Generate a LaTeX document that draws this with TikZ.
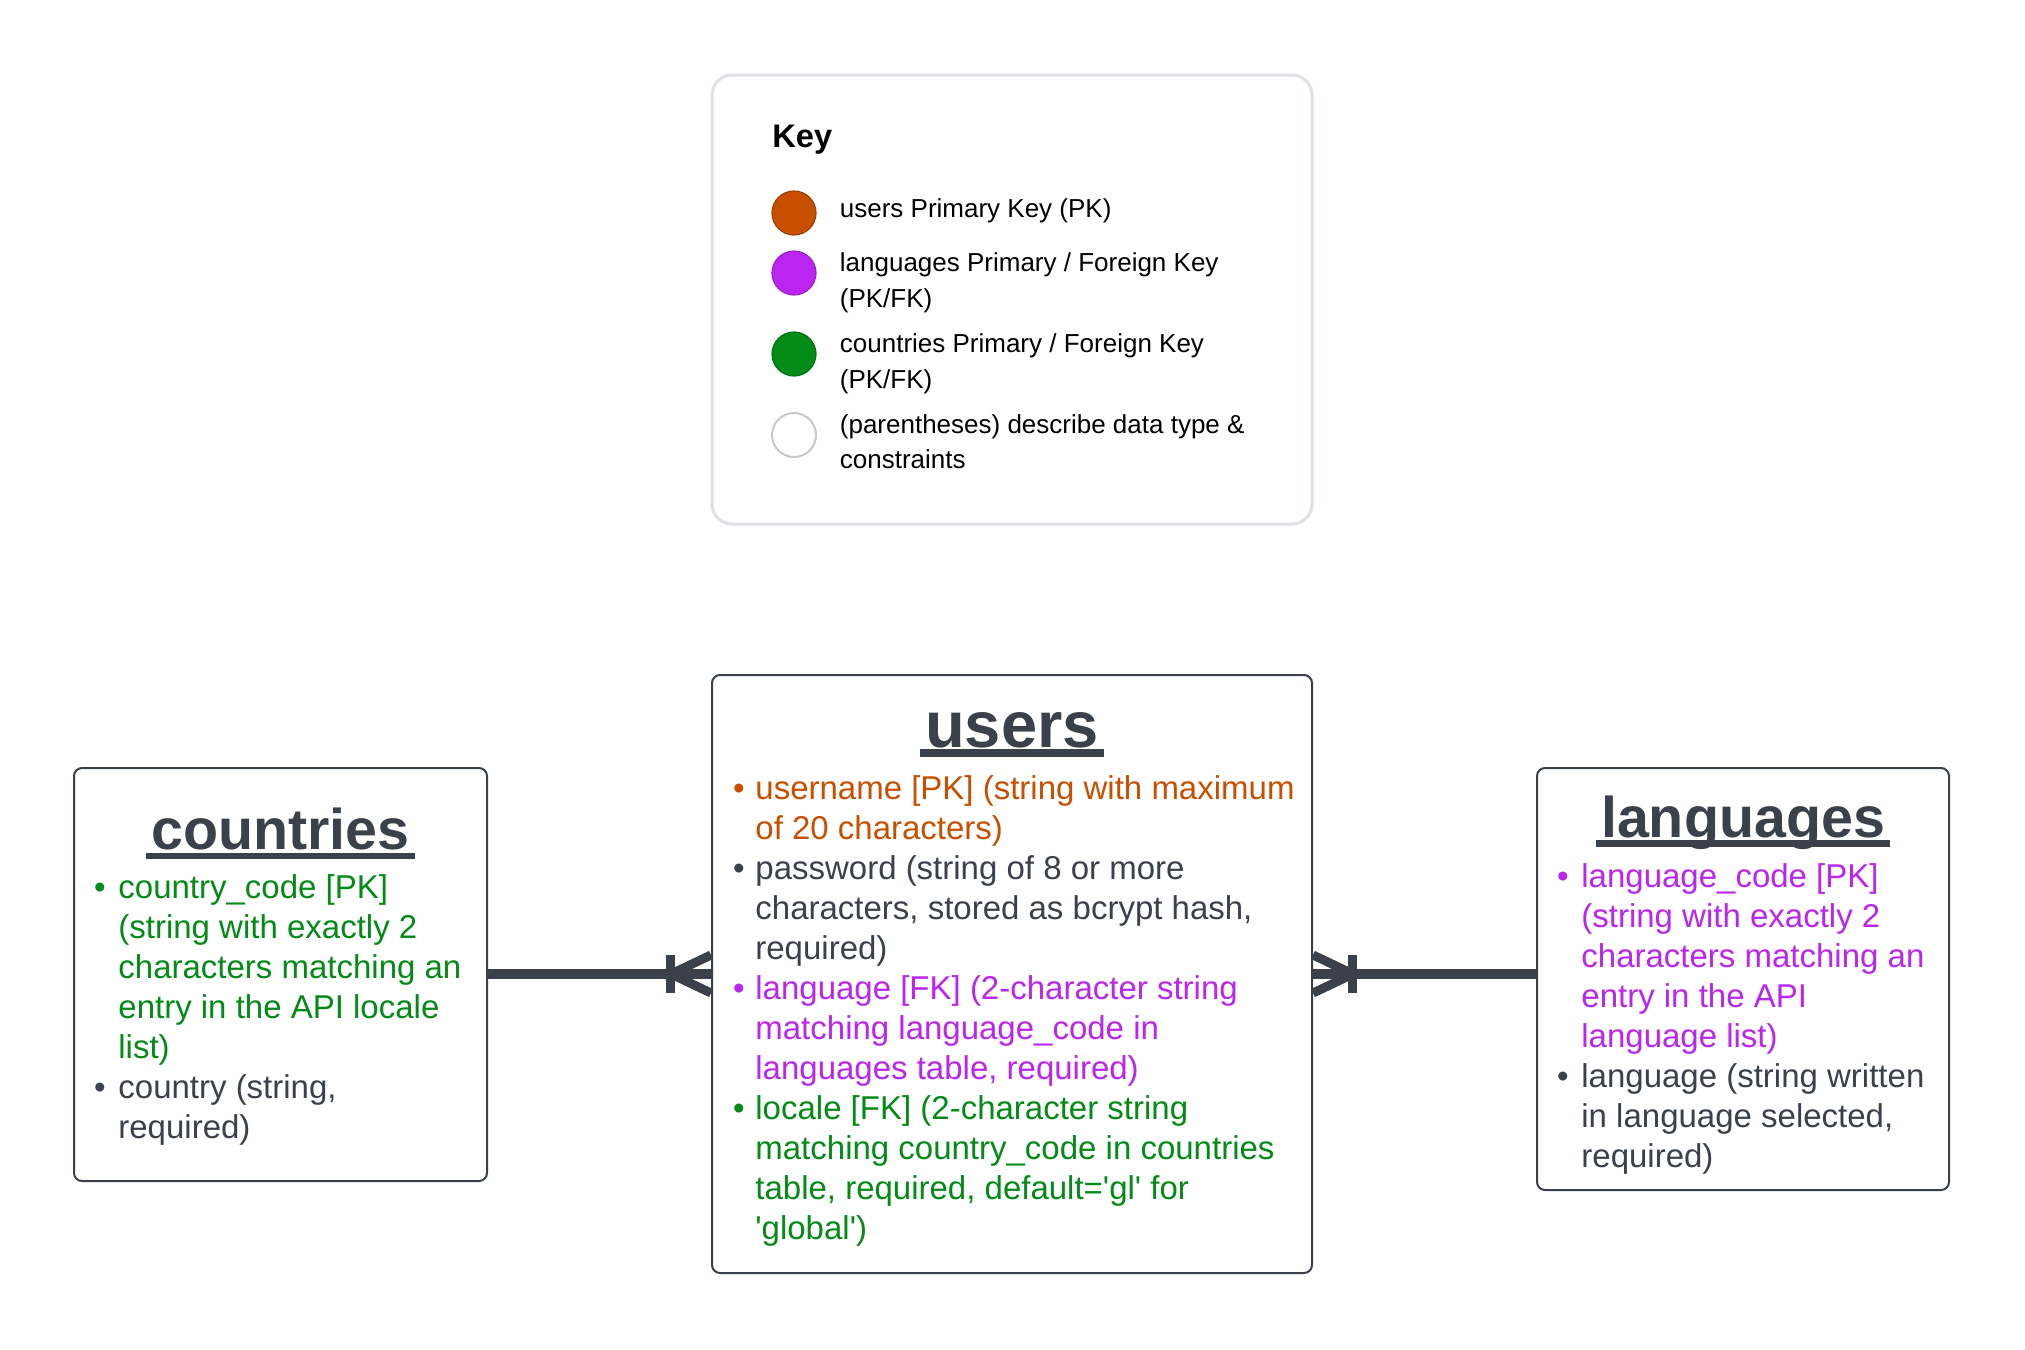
\documentclass[tikz,border=0pt]{standalone}
\usepackage{fontspec}
\setmainfont{Liberation Sans}[Ligatures=TeXOff]
\definecolor{ink}{HTML}{3A414A}
\definecolor{orng}{HTML}{C94F00}
\definecolor{purp}{HTML}{BA25F0}
\definecolor{grn}{HTML}{038A17}
\definecolor{keyline}{HTML}{DFE1E6}
\definecolor{ringgray}{HTML}{C8C8C8}
\begin{document}
\begin{tikzpicture}[x=0.5pt,y=-0.5pt,
  entity/.style={draw=ink, line width=1pt, rounded corners=4pt, fill=white, inner sep=0pt},
  body/.style={inner sep=0pt, anchor=base west, font=\fontsize{16.5}{20}\selectfont},
  bul/.style={inner sep=0pt, anchor=base, font=\fontsize{16.5}{20}\selectfont},
  ttl/.style={inner sep=0pt, anchor=base, text=ink, font=\bfseries\fontsize{28.7}{34}\selectfont},
  ul/.style={draw=ink, line width=3pt},
  conn/.style={draw=ink, line width=5pt},
  prong/.style={draw=ink, line width=4.5pt},
  keytxt/.style={inner sep=0pt, anchor=base west, font=\fontsize{13}{17}\selectfont},
  dot/.style={circle, minimum size=22pt, inner sep=0pt, line width=0.6pt},
]
\fill[white] (0,0) rectangle (2025,1350);
\useasboundingbox (0,0) rectangle (2025,1350);

% ---------- Key ----------
\node[draw=keyline, line width=1.5pt, rounded corners=10pt, minimum width=300pt, minimum height=224.5pt, inner sep=0pt] (key) at (1012,299.5) {};
\node[inner sep=0pt, anchor=base west, font=\bfseries\fontsize{16.3}{19}\selectfont] (keyttl) at (772,147) {Key};
\node[dot, fill=orng, draw=orng!80!black] (d1) at (794,213) {};
\node[dot, fill=purp, draw=purp!85!black] (d2) at (794,273) {};
\node[dot, fill=grn, draw=grn!85!black] (d3) at (794,354) {};
\node[dot, fill=white, draw=ringgray, line width=1pt] (d4) at (794,435) {};
\node[keytxt] (k1) at (839.5,217) {users Primary Key (PK)};
\node[keytxt] (k2a) at (839.5,271) {languages Primary / Foreign Key};
\node[keytxt] (k2b) at (839.5,307) {(PK/FK)};
\node[keytxt] (k3a) at (839.5,352) {countries Primary / Foreign Key};
\node[keytxt] (k3b) at (839.5,388) {(PK/FK)};
\node[keytxt] (k4a) at (839.5,433) {(parentheses) describe data type \&};
\node[keytxt] (k4b) at (839.5,468) {constraints};

% ---------- Entity boxes ----------
\node[entity, minimum width=206.5pt, minimum height=206.5pt] (countries) at (280.5,974.5) {};
\node[entity, minimum width=300pt, minimum height=299pt] (users) at (1012,974) {};
\node[entity, minimum width=206pt, minimum height=211pt] (languages) at (1743,979) {};

% ---------- countries ----------
\node[ttl] (ctt) at (280.5,849) {countries};
\draw[ul] ([xshift=-2.5pt,yshift=-3.5pt]ctt.base west) -- ([xshift=2.5pt,yshift=-3.5pt]ctt.base east);
\node[bul, text=grn] (cb1) at (100,898) {•};
\foreach \t [count=\i from 0] in {{country\_code [PK]},{(string with exactly 2},{characters matching an},{entry in the API locale},{list)}}
  \node[body, text=grn] (ca\i) at (118,{898+40*\i}) {\t};
\node[bul, text=ink] (cb2) at (100,1098) {•};
\foreach \t [count=\i from 0] in {{country (string,},{required)}}
  \node[body, text=ink] (cc\i) at (118,{1098+40*\i}) {\t};

% ---------- users ----------
\node[ttl, font=\bfseries\fontsize{32.5}{38}\selectfont] (utt) at (1012,747) {users};
\draw[ul, line width=4pt] ([xshift=-2.5pt,yshift=-3pt]utt.base west) -- ([xshift=2.5pt,yshift=-3pt]utt.base east);
\node[bul, text=orng] (ub1) at (739,799) {•};
\foreach \t [count=\i from 0] in {{username [PK] (string with maximum},{of 20 characters)}}
  \node[body, text=orng] (ua\i) at (755,{799+40*\i}) {\t};
\node[bul, text=ink] (ub2) at (739,879) {•};
\foreach \t [count=\i from 0] in {{password (string of 8 or more},{characters, stored as bcrypt hash,},{required)}}
  \node[body, text=ink] (uc\i) at (755,{879+40*\i}) {\t};
\node[bul, text=purp] (ub3) at (739,999) {•};
\foreach \t [count=\i from 0] in {{language [FK] (2-character string},{matching language\_code in},{languages table, required)}}
  \node[body, text=purp] (ud\i) at (755,{999+40*\i}) {\t};
\node[bul, text=grn] (ub4) at (739,1119) {•};
\foreach \t [count=\i from 0] in {{locale [FK] (2-character string},{matching country\_code in countries},{table, required, default='gl' for},{'global')}}
  \node[body, text=grn] (ue\i) at (755,{1119+40*\i}) {\t};

% ---------- languages ----------
\node[ttl] (ltt) at (1743,837) {languages};
\draw[ul, line width=3.5pt] ([xshift=-2.5pt,yshift=-3.25pt]ltt.base west) -- ([xshift=2.5pt,yshift=-3.25pt]ltt.base east);
\node[bul, text=purp] (lb1) at (1563,887.5) {•};
\foreach \t [count=\i from 0] in {{language\_code [PK]},{(string with exactly 2},{characters matching an},{entry in the API},{language list)}}
  \node[body, text=purp] (la\i) at (1581,{887.5+40*\i}) {\t};
\node[bul, text=ink] (lb2) at (1563,1087.5) {•};
\foreach \t [count=\i from 0] in {{language (string written},{in language selected,},{required)}}
  \node[body, text=ink] (lc\i) at (1581,{1087.5+40*\i}) {\t};

% ---------- connectors ----------
\draw[conn] (users.west -| countries.east) -- (users.west);
\coordinate (lcv) at ([xshift=-20pt]users.west);
\draw[prong] (lcv) -- ([yshift=9.5pt]users.west);
\draw[prong] (lcv) -- ([yshift=-9.5pt]users.west);
\draw[prong] ([xshift=-20.25pt,yshift=9.5pt]users.west) -- ([xshift=-20.25pt,yshift=-9.5pt]users.west);

\draw[conn] (users.east) -- (users.east -| languages.west);
\coordinate (rcv) at ([xshift=20pt]users.east);
\draw[prong] (rcv) -- ([yshift=9.5pt]users.east);
\draw[prong] (rcv) -- ([yshift=-9.5pt]users.east);
\draw[prong] ([xshift=19.75pt,yshift=9.5pt]users.east) -- ([xshift=19.75pt,yshift=-9.5pt]users.east);
\end{tikzpicture}
\end{document}
